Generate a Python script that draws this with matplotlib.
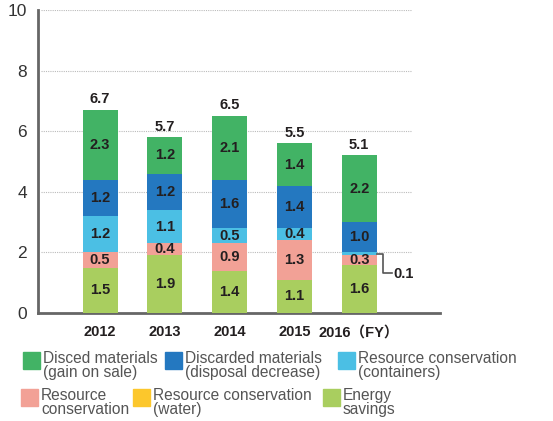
import matplotlib
matplotlib.use("Agg")
import matplotlib.pyplot as plt
from matplotlib.patches import Rectangle
import numpy as np

plt.rcParams["font.family"] = ["Liberation Sans", "Noto Sans CJK JP", "DejaVu Sans"]

years = ["2012", "2013", "2014", "2015", "2016\uff08FY\uff09"]
series_names = [
    "Energy\nsavings",
    "Resource\nconservation",
    "Resource conservation\n(water)",
    "Resource conservation\n(containers)",
    "Discarded materials\n(disposal decrease)",
    "Disced materials\n(gain on sale)",
]
colors = ["#a9ce5f", "#f2a196", "#fcc72c", "#4bbfe4", "#2478c0", "#42b365"]

# bottom to top
energy = [1.5, 1.9, 1.4, 1.1, 1.6]
res_cons = [0.5, 0.4, 0.9, 1.3, 0.3]
water = [0.0, 0.0, 0.0, 0.0, 0.0]
containers = [1.2, 1.1, 0.5, 0.4, 0.1]
discarded = [1.2, 1.2, 1.6, 1.4, 1.0]
disced = [2.3, 1.2, 2.1, 1.4, 2.2]
totals = ["6.7", "5.7", "6.5", "5.5", "5.1"]

stack = [energy, res_cons, water, containers, discarded, disced]

fig = plt.figure(figsize=(5.53, 4.21), dpi=100)
W, H = 553, 421
ax = fig.add_axes([38 / W, (H - 313) / H, (440 - 38) / W, 303 / H])

x = np.arange(len(years))
width = 0.54
bottom = np.zeros(len(years))
for vals, col in zip(stack, colors):
    vals = np.array(vals)
    ax.bar(x, vals, width, bottom=bottom, color=col, zorder=3, linewidth=0)
    for xi, b, v in zip(x, bottom, vals):
        if v >= 0.3:
            ax.text(xi, b + v / 2, f"{v:.1f}", ha="center", va="center",
                    fontsize=10.5, fontweight="bold", color="#231f20", zorder=4)
    bottom += vals

for xi, top, lbl in zip(x, bottom, totals):
    ax.text(xi, top + 0.12, lbl, ha="center", va="bottom", fontsize=10.5,
            fontweight="bold", color="#231f20")

# callout for the tiny 2016 container value
y_call = energy[4] + res_cons[4] + containers[4] / 2
ax.plot([4 + width / 2, 4.37, 4.37, 4.5], [y_call, y_call, 1.32, 1.32],
        color="#555555", lw=1.2, zorder=4, clip_on=False)
ax.text(4.53, 1.3, f"{containers[4]:.1f}", ha="left", va="center",
        fontsize=10.5, fontweight="bold", color="#231f20")

ax.hlines([2, 4, 6, 8, 10], -0.91, 4.82, colors="#bbbbbb", linestyles=(0, (1, 1)),
          lw=0.8, zorder=1)

ax.set_xlim(-0.957, 5.247)
ax.set_ylim(0, 10)
ax.set_yticks([0, 2, 4, 6, 8, 10])
ax.set_xticks(x)
ax.set_xticklabels(years, fontsize=10.5, fontweight="bold", color="#231f20")
ax.tick_params(axis="y", length=0, labelsize=12.5, colors="#333333", pad=8)
ax.tick_params(axis="x", length=0, pad=9)
for s in ["top", "right"]:
    ax.spines[s].set_visible(False)
for s in ["left", "bottom"]:
    ax.spines[s].set_color("#666666")
    ax.spines[s].set_linewidth(2)

# legend drawn manually (3 columns, 2 rows)
legend_pos = [
    (5, 23, 352), (4, 165, 352), (3, 338, 352),
    (1, 21, 389), (2, 133, 389), (0, 323, 389),
]
for idx, px, py in legend_pos:
    fig.patches.append(Rectangle((px / W, 1 - (py + 17) / H), 17 / W, 17 / H,
                                 transform=fig.transFigure, color=colors[idx]))
    fig.text((px + 20) / W, 1 - (py - 1) / H, series_names[idx], ha="left", va="top",
             fontsize=11.2, color="#555555", linespacing=0.88)

fig.savefig("out.png", dpi=100)
